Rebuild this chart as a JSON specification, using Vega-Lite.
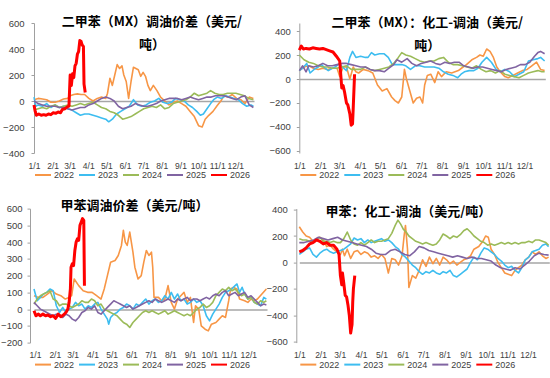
{
"$schema":"https://vega.github.io/schema/vega-lite/v6.json",
"padding":{"top":16,"left":0,"right":0,"bottom":0},
"config":{"view":{"stroke":null},"font":"Liberation Sans",
"axis":{"labelFont":"Liberation Sans","labelFontSize":9.5,"labelColor":"#404040","domainColor":"#A0A0A0","tickColor":"#A0A0A0","labelOverlap":false},
"axisX":{"domain":false,"ticks":false,"tickSize":0,"labelFlush":false,"labelFontSize":8.5,"grid":false},
"axisY":{"tickSize":3,"labelFlush":false,"grid":true,"gridWidth":1.5,"gridColor":{"condition":{"test":"datum.value===0","value":"#A6A6A6"},"value":"transparent"}},
"legend":{"orient":"bottom","direction":"horizontal","symbolType":"stroke","symbolSize":256,"symbolStrokeWidth":2,"labelFont":"Liberation Sans","labelFontSize":9,"labelColor":"#404040","labelOffset":2,"columnPadding":0,"padding":0,"rowPadding":0},
"title":{"font":"Noto Sans CJK SC","fontWeight":"bold","fontSize":13,"color":"#000000","anchor":"middle","frame":"group","lineHeight":23}},
"datasets":{"t":[
{"p":1,"s":2022,"d":0,"v":10},{"p":1,"s":2022,"d":7,"v":20},{"p":1,"s":2022,"d":14,"v":15},{"p":1,"s":2022,"d":21,"v":10},{"p":1,"s":2022,"d":28,"v":-10},{"p":1,"s":2022,"d":35,"v":-10},{"p":1,"s":2022,"d":42,"v":0},{"p":1,"s":2022,"d":49,"v":15},{"p":1,"s":2022,"d":56,"v":20},{"p":1,"s":2022,"d":60,"v":40},{"p":1,"s":2022,"d":66,"v":50},{"p":1,"s":2022,"d":72,"v":55},{"p":1,"s":2022,"d":78,"v":50},{"p":1,"s":2022,"d":84,"v":50},{"p":1,"s":2022,"d":91,"v":20},{"p":1,"s":2022,"d":98,"v":0},{"p":1,"s":2022,"d":105,"v":20},{"p":1,"s":2022,"d":112,"v":30},{"p":1,"s":2022,"d":119,"v":20},{"p":1,"s":2022,"d":122,"v":60},{"p":1,"s":2022,"d":126,"v":175},{"p":1,"s":2022,"d":130,"v":120},{"p":1,"s":2022,"d":134,"v":200},{"p":1,"s":2022,"d":138,"v":280},{"p":1,"s":2022,"d":142,"v":250},{"p":1,"s":2022,"d":146,"v":270},{"p":1,"s":2022,"d":149,"v":200},{"p":1,"s":2022,"d":153,"v":150},{"p":1,"s":2022,"d":157,"v":20},{"p":1,"s":2022,"d":161,"v":150},{"p":1,"s":2022,"d":165,"v":260},{"p":1,"s":2022,"d":169,"v":250},{"p":1,"s":2022,"d":173,"v":240},{"p":1,"s":2022,"d":177,"v":190},{"p":1,"s":2022,"d":181,"v":220},{"p":1,"s":2022,"d":185,"v":190},{"p":1,"s":2022,"d":189,"v":120},{"p":1,"s":2022,"d":193,"v":80},{"p":1,"s":2022,"d":198,"v":120},{"p":1,"s":2022,"d":204,"v":80},{"p":1,"s":2022,"d":210,"v":30},{"p":1,"s":2022,"d":217,"v":0},{"p":1,"s":2022,"d":224,"v":-30},{"p":1,"s":2022,"d":231,"v":-10},{"p":1,"s":2022,"d":238,"v":0},{"p":1,"s":2022,"d":245,"v":-20},{"p":1,"s":2022,"d":252,"v":-40},{"p":1,"s":2022,"d":259,"v":-80},{"p":1,"s":2022,"d":266,"v":-120},{"p":1,"s":2022,"d":273,"v":-190},{"p":1,"s":2022,"d":279,"v":-200},{"p":1,"s":2022,"d":284,"v":-140},{"p":1,"s":2022,"d":290,"v":-110},{"p":1,"s":2022,"d":297,"v":-80},{"p":1,"s":2022,"d":304,"v":-35},{"p":1,"s":2022,"d":310,"v":0},{"p":1,"s":2022,"d":315,"v":40},{"p":1,"s":2022,"d":322,"v":30},{"p":1,"s":2022,"d":329,"v":50},{"p":1,"s":2022,"d":336,"v":20},{"p":1,"s":2022,"d":343,"v":10},{"p":1,"s":2022,"d":350,"v":-20},{"p":1,"s":2022,"d":357,"v":30},{"p":1,"s":2022,"d":364,"v":20},
{"p":1,"s":2023,"d":0,"v":30},{"p":1,"s":2023,"d":3,"v":-40},{"p":1,"s":2023,"d":7,"v":-30},{"p":1,"s":2023,"d":14,"v":-40},{"p":1,"s":2023,"d":21,"v":-20},{"p":1,"s":2023,"d":28,"v":-50},{"p":1,"s":2023,"d":35,"v":-30},{"p":1,"s":2023,"d":42,"v":-50},{"p":1,"s":2023,"d":49,"v":-40},{"p":1,"s":2023,"d":56,"v":-60},{"p":1,"s":2023,"d":63,"v":-70},{"p":1,"s":2023,"d":70,"v":-90},{"p":1,"s":2023,"d":77,"v":-110},{"p":1,"s":2023,"d":84,"v":-100},{"p":1,"s":2023,"d":91,"v":-100},{"p":1,"s":2023,"d":98,"v":-110},{"p":1,"s":2023,"d":105,"v":-120},{"p":1,"s":2023,"d":112,"v":-130},{"p":1,"s":2023,"d":119,"v":-140},{"p":1,"s":2023,"d":124,"v":-160},{"p":1,"s":2023,"d":130,"v":-140},{"p":1,"s":2023,"d":137,"v":-100},{"p":1,"s":2023,"d":144,"v":-80},{"p":1,"s":2023,"d":151,"v":-60},{"p":1,"s":2023,"d":158,"v":-40},{"p":1,"s":2023,"d":165,"v":10},{"p":1,"s":2023,"d":172,"v":-30},{"p":1,"s":2023,"d":179,"v":-40},{"p":1,"s":2023,"d":186,"v":-30},{"p":1,"s":2023,"d":193,"v":-10},{"p":1,"s":2023,"d":200,"v":0},{"p":1,"s":2023,"d":207,"v":20},{"p":1,"s":2023,"d":214,"v":-10},{"p":1,"s":2023,"d":221,"v":-20},{"p":1,"s":2023,"d":228,"v":-10},{"p":1,"s":2023,"d":235,"v":20},{"p":1,"s":2023,"d":242,"v":10},{"p":1,"s":2023,"d":249,"v":0},{"p":1,"s":2023,"d":256,"v":-30},{"p":1,"s":2023,"d":263,"v":-50},{"p":1,"s":2023,"d":270,"v":-80},{"p":1,"s":2023,"d":276,"v":-110},{"p":1,"s":2023,"d":281,"v":-100},{"p":1,"s":2023,"d":287,"v":-60},{"p":1,"s":2023,"d":293,"v":-20},{"p":1,"s":2023,"d":298,"v":10},{"p":1,"s":2023,"d":304,"v":30},{"p":1,"s":2023,"d":311,"v":20},{"p":1,"s":2023,"d":318,"v":40},{"p":1,"s":2023,"d":325,"v":30},{"p":1,"s":2023,"d":332,"v":20},{"p":1,"s":2023,"d":339,"v":10},{"p":1,"s":2023,"d":346,"v":-20},{"p":1,"s":2023,"d":353,"v":-40},{"p":1,"s":2023,"d":360,"v":-30},{"p":1,"s":2023,"d":364,"v":-40},
{"p":1,"s":2024,"d":0,"v":-70},{"p":1,"s":2024,"d":7,"v":-60},{"p":1,"s":2024,"d":14,"v":-50},{"p":1,"s":2024,"d":21,"v":-60},{"p":1,"s":2024,"d":28,"v":-40},{"p":1,"s":2024,"d":35,"v":-30},{"p":1,"s":2024,"d":42,"v":-50},{"p":1,"s":2024,"d":49,"v":-40},{"p":1,"s":2024,"d":56,"v":-30},{"p":1,"s":2024,"d":63,"v":-40},{"p":1,"s":2024,"d":70,"v":-30},{"p":1,"s":2024,"d":77,"v":-20},{"p":1,"s":2024,"d":84,"v":-30},{"p":1,"s":2024,"d":91,"v":-20},{"p":1,"s":2024,"d":98,"v":-10},{"p":1,"s":2024,"d":105,"v":-30},{"p":1,"s":2024,"d":112,"v":-50},{"p":1,"s":2024,"d":119,"v":-60},{"p":1,"s":2024,"d":126,"v":-80},{"p":1,"s":2024,"d":133,"v":-90},{"p":1,"s":2024,"d":140,"v":-110},{"p":1,"s":2024,"d":147,"v":-140},{"p":1,"s":2024,"d":154,"v":-130},{"p":1,"s":2024,"d":161,"v":-120},{"p":1,"s":2024,"d":168,"v":-100},{"p":1,"s":2024,"d":175,"v":-80},{"p":1,"s":2024,"d":182,"v":-60},{"p":1,"s":2024,"d":189,"v":-50},{"p":1,"s":2024,"d":196,"v":-40},{"p":1,"s":2024,"d":203,"v":-50},{"p":1,"s":2024,"d":210,"v":-30},{"p":1,"s":2024,"d":217,"v":-60},{"p":1,"s":2024,"d":224,"v":-50},{"p":1,"s":2024,"d":231,"v":-20},{"p":1,"s":2024,"d":238,"v":-10},{"p":1,"s":2024,"d":245,"v":0},{"p":1,"s":2024,"d":252,"v":10},{"p":1,"s":2024,"d":259,"v":30},{"p":1,"s":2024,"d":266,"v":60},{"p":1,"s":2024,"d":273,"v":40},{"p":1,"s":2024,"d":280,"v":50},{"p":1,"s":2024,"d":287,"v":60},{"p":1,"s":2024,"d":293,"v":80},{"p":1,"s":2024,"d":300,"v":60},{"p":1,"s":2024,"d":307,"v":50},{"p":1,"s":2024,"d":314,"v":50},{"p":1,"s":2024,"d":321,"v":60},{"p":1,"s":2024,"d":328,"v":60},{"p":1,"s":2024,"d":335,"v":60},{"p":1,"s":2024,"d":342,"v":50},{"p":1,"s":2024,"d":349,"v":40},{"p":1,"s":2024,"d":356,"v":20},{"p":1,"s":2024,"d":364,"v":10},
{"p":1,"s":2025,"d":0,"v":0},{"p":1,"s":2025,"d":7,"v":-20},{"p":1,"s":2025,"d":14,"v":-30},{"p":1,"s":2025,"d":21,"v":-40},{"p":1,"s":2025,"d":28,"v":-40},{"p":1,"s":2025,"d":35,"v":-40},{"p":1,"s":2025,"d":42,"v":-50},{"p":1,"s":2025,"d":49,"v":-50},{"p":1,"s":2025,"d":56,"v":-60},{"p":1,"s":2025,"d":63,"v":-70},{"p":1,"s":2025,"d":70,"v":-60},{"p":1,"s":2025,"d":77,"v":-50},{"p":1,"s":2025,"d":84,"v":-50},{"p":1,"s":2025,"d":91,"v":-30},{"p":1,"s":2025,"d":98,"v":-20},{"p":1,"s":2025,"d":105,"v":0},{"p":1,"s":2025,"d":112,"v":20},{"p":1,"s":2025,"d":119,"v":30},{"p":1,"s":2025,"d":126,"v":20},{"p":1,"s":2025,"d":133,"v":0},{"p":1,"s":2025,"d":140,"v":-40},{"p":1,"s":2025,"d":147,"v":-60},{"p":1,"s":2025,"d":154,"v":-50},{"p":1,"s":2025,"d":161,"v":-40},{"p":1,"s":2025,"d":168,"v":-20},{"p":1,"s":2025,"d":175,"v":-30},{"p":1,"s":2025,"d":182,"v":-40},{"p":1,"s":2025,"d":189,"v":-40},{"p":1,"s":2025,"d":196,"v":-30},{"p":1,"s":2025,"d":203,"v":-20},{"p":1,"s":2025,"d":210,"v":0},{"p":1,"s":2025,"d":217,"v":10},{"p":1,"s":2025,"d":224,"v":20},{"p":1,"s":2025,"d":231,"v":20},{"p":1,"s":2025,"d":238,"v":20},{"p":1,"s":2025,"d":245,"v":10},{"p":1,"s":2025,"d":252,"v":20},{"p":1,"s":2025,"d":259,"v":30},{"p":1,"s":2025,"d":266,"v":20},{"p":1,"s":2025,"d":273,"v":10},{"p":1,"s":2025,"d":280,"v":20},{"p":1,"s":2025,"d":287,"v":30},{"p":1,"s":2025,"d":294,"v":30},{"p":1,"s":2025,"d":301,"v":40},{"p":1,"s":2025,"d":308,"v":40},{"p":1,"s":2025,"d":315,"v":40},{"p":1,"s":2025,"d":322,"v":30},{"p":1,"s":2025,"d":329,"v":20},{"p":1,"s":2025,"d":336,"v":10},{"p":1,"s":2025,"d":343,"v":30},{"p":1,"s":2025,"d":350,"v":40},{"p":1,"s":2025,"d":357,"v":-30},{"p":1,"s":2025,"d":364,"v":-50},
{"p":1,"s":2026,"d":0,"v":-30},{"p":1,"s":2026,"d":2,"v":-80},{"p":1,"s":2026,"d":4,"v":-110},{"p":1,"s":2026,"d":8,"v":-100},{"p":1,"s":2026,"d":12,"v":-110},{"p":1,"s":2026,"d":16,"v":-105},{"p":1,"s":2026,"d":20,"v":-110},{"p":1,"s":2026,"d":24,"v":-100},{"p":1,"s":2026,"d":28,"v":-105},{"p":1,"s":2026,"d":32,"v":-90},{"p":1,"s":2026,"d":36,"v":-95},{"p":1,"s":2026,"d":40,"v":-85},{"p":1,"s":2026,"d":44,"v":-90},{"p":1,"s":2026,"d":47,"v":-65},{"p":1,"s":2026,"d":51,"v":-60},{"p":1,"s":2026,"d":55,"v":-45},{"p":1,"s":2026,"d":58,"v":-40},{"p":1,"s":2026,"d":60,"v":200},{"p":1,"s":2026,"d":62,"v":120},{"p":1,"s":2026,"d":64,"v":210},{"p":1,"s":2026,"d":66,"v":180},{"p":1,"s":2026,"d":68,"v":270},{"p":1,"s":2026,"d":70,"v":290},{"p":1,"s":2026,"d":72,"v":360},{"p":1,"s":2026,"d":74,"v":380},{"p":1,"s":2026,"d":76,"v":465},{"p":1,"s":2026,"d":78,"v":460},{"p":1,"s":2026,"d":80,"v":430},{"p":1,"s":2026,"d":82,"v":420},{"p":1,"s":2026,"d":83,"v":130},{"p":1,"s":2026,"d":85,"v":65},
{"p":2,"s":2022,"d":0,"v":70},{"p":2,"s":2022,"d":7,"v":100},{"p":2,"s":2022,"d":14,"v":110},{"p":2,"s":2022,"d":21,"v":90},{"p":2,"s":2022,"d":28,"v":80},{"p":2,"s":2022,"d":35,"v":90},{"p":2,"s":2022,"d":42,"v":80},{"p":2,"s":2022,"d":49,"v":90},{"p":2,"s":2022,"d":56,"v":90},{"p":2,"s":2022,"d":60,"v":20},{"p":2,"s":2022,"d":65,"v":100},{"p":2,"s":2022,"d":70,"v":100},{"p":2,"s":2022,"d":75,"v":0},{"p":2,"s":2022,"d":80,"v":100},{"p":2,"s":2022,"d":84,"v":60},{"p":2,"s":2022,"d":88,"v":50},{"p":2,"s":2022,"d":95,"v":80},{"p":2,"s":2022,"d":102,"v":70},{"p":2,"s":2022,"d":109,"v":50},{"p":2,"s":2022,"d":116,"v":-50},{"p":2,"s":2022,"d":123,"v":-100},{"p":2,"s":2022,"d":130,"v":-80},{"p":2,"s":2022,"d":137,"v":-150},{"p":2,"s":2022,"d":142,"v":-180},{"p":2,"s":2022,"d":147,"v":-200},{"p":2,"s":2022,"d":152,"v":-150},{"p":2,"s":2022,"d":156,"v":80},{"p":2,"s":2022,"d":159,"v":0},{"p":2,"s":2022,"d":164,"v":-100},{"p":2,"s":2022,"d":169,"v":-200},{"p":2,"s":2022,"d":174,"v":-160},{"p":2,"s":2022,"d":179,"v":-150},{"p":2,"s":2022,"d":183,"v":-200},{"p":2,"s":2022,"d":186,"v":-50},{"p":2,"s":2022,"d":190,"v":30},{"p":2,"s":2022,"d":195,"v":40},{"p":2,"s":2022,"d":201,"v":-30},{"p":2,"s":2022,"d":206,"v":60},{"p":2,"s":2022,"d":211,"v":20},{"p":2,"s":2022,"d":218,"v":60},{"p":2,"s":2022,"d":226,"v":50},{"p":2,"s":2022,"d":236,"v":70},{"p":2,"s":2022,"d":243,"v":100},{"p":2,"s":2022,"d":248,"v":120},{"p":2,"s":2022,"d":256,"v":160},{"p":2,"s":2022,"d":263,"v":180},{"p":2,"s":2022,"d":268,"v":200},{"p":2,"s":2022,"d":273,"v":190},{"p":2,"s":2022,"d":278,"v":250},{"p":2,"s":2022,"d":283,"v":230},{"p":2,"s":2022,"d":288,"v":180},{"p":2,"s":2022,"d":293,"v":100},{"p":2,"s":2022,"d":298,"v":60},{"p":2,"s":2022,"d":305,"v":20},{"p":2,"s":2022,"d":310,"v":10},{"p":2,"s":2022,"d":317,"v":30},{"p":2,"s":2022,"d":324,"v":50},{"p":2,"s":2022,"d":331,"v":70},{"p":2,"s":2022,"d":338,"v":80},{"p":2,"s":2022,"d":345,"v":110},{"p":2,"s":2022,"d":352,"v":140},{"p":2,"s":2022,"d":358,"v":80},{"p":2,"s":2022,"d":364,"v":70},
{"p":2,"s":2023,"d":0,"v":70},{"p":2,"s":2023,"d":5,"v":90},{"p":2,"s":2023,"d":11,"v":130},{"p":2,"s":2023,"d":16,"v":50},{"p":2,"s":2023,"d":22,"v":80},{"p":2,"s":2023,"d":28,"v":100},{"p":2,"s":2023,"d":33,"v":120},{"p":2,"s":2023,"d":38,"v":90},{"p":2,"s":2023,"d":43,"v":70},{"p":2,"s":2023,"d":49,"v":90},{"p":2,"s":2023,"d":53,"v":100},{"p":2,"s":2023,"d":60,"v":130},{"p":2,"s":2023,"d":64,"v":100},{"p":2,"s":2023,"d":70,"v":70},{"p":2,"s":2023,"d":75,"v":180},{"p":2,"s":2023,"d":79,"v":230},{"p":2,"s":2023,"d":84,"v":180},{"p":2,"s":2023,"d":91,"v":190},{"p":2,"s":2023,"d":98,"v":180},{"p":2,"s":2023,"d":102,"v":180},{"p":2,"s":2023,"d":107,"v":220},{"p":2,"s":2023,"d":112,"v":200},{"p":2,"s":2023,"d":119,"v":210},{"p":2,"s":2023,"d":126,"v":210},{"p":2,"s":2023,"d":132,"v":180},{"p":2,"s":2023,"d":138,"v":120},{"p":2,"s":2023,"d":145,"v":120},{"p":2,"s":2023,"d":152,"v":120},{"p":2,"s":2023,"d":158,"v":110},{"p":2,"s":2023,"d":165,"v":80},{"p":2,"s":2023,"d":172,"v":110},{"p":2,"s":2023,"d":179,"v":110},{"p":2,"s":2023,"d":186,"v":100},{"p":2,"s":2023,"d":193,"v":100},{"p":2,"s":2023,"d":200,"v":100},{"p":2,"s":2023,"d":207,"v":90},{"p":2,"s":2023,"d":214,"v":60},{"p":2,"s":2023,"d":221,"v":40},{"p":2,"s":2023,"d":228,"v":30},{"p":2,"s":2023,"d":235,"v":10},{"p":2,"s":2023,"d":240,"v":40},{"p":2,"s":2023,"d":245,"v":60},{"p":2,"s":2023,"d":252,"v":70},{"p":2,"s":2023,"d":259,"v":70},{"p":2,"s":2023,"d":265,"v":90},{"p":2,"s":2023,"d":271,"v":140},{"p":2,"s":2023,"d":278,"v":180},{"p":2,"s":2023,"d":285,"v":140},{"p":2,"s":2023,"d":292,"v":80},{"p":2,"s":2023,"d":298,"v":60},{"p":2,"s":2023,"d":305,"v":80},{"p":2,"s":2023,"d":312,"v":60},{"p":2,"s":2023,"d":319,"v":20},{"p":2,"s":2023,"d":326,"v":40},{"p":2,"s":2023,"d":333,"v":60},{"p":2,"s":2023,"d":340,"v":150},{"p":2,"s":2023,"d":347,"v":160},{"p":2,"s":2023,"d":354,"v":170},{"p":2,"s":2023,"d":358,"v":180},{"p":2,"s":2023,"d":364,"v":150},
{"p":2,"s":2024,"d":0,"v":200},{"p":2,"s":2024,"d":7,"v":160},{"p":2,"s":2024,"d":14,"v":140},{"p":2,"s":2024,"d":21,"v":130},{"p":2,"s":2024,"d":28,"v":110},{"p":2,"s":2024,"d":35,"v":100},{"p":2,"s":2024,"d":42,"v":100},{"p":2,"s":2024,"d":49,"v":90},{"p":2,"s":2024,"d":56,"v":90},{"p":2,"s":2024,"d":63,"v":100},{"p":2,"s":2024,"d":70,"v":110},{"p":2,"s":2024,"d":77,"v":80},{"p":2,"s":2024,"d":84,"v":80},{"p":2,"s":2024,"d":91,"v":80},{"p":2,"s":2024,"d":98,"v":100},{"p":2,"s":2024,"d":105,"v":80},{"p":2,"s":2024,"d":112,"v":70},{"p":2,"s":2024,"d":119,"v":80},{"p":2,"s":2024,"d":126,"v":90},{"p":2,"s":2024,"d":133,"v":100},{"p":2,"s":2024,"d":140,"v":130},{"p":2,"s":2024,"d":147,"v":180},{"p":2,"s":2024,"d":152,"v":220},{"p":2,"s":2024,"d":158,"v":200},{"p":2,"s":2024,"d":165,"v":190},{"p":2,"s":2024,"d":172,"v":170},{"p":2,"s":2024,"d":179,"v":150},{"p":2,"s":2024,"d":186,"v":140},{"p":2,"s":2024,"d":193,"v":150},{"p":2,"s":2024,"d":200,"v":150},{"p":2,"s":2024,"d":207,"v":170},{"p":2,"s":2024,"d":214,"v":180},{"p":2,"s":2024,"d":221,"v":140},{"p":2,"s":2024,"d":228,"v":120},{"p":2,"s":2024,"d":235,"v":120},{"p":2,"s":2024,"d":242,"v":110},{"p":2,"s":2024,"d":249,"v":100},{"p":2,"s":2024,"d":256,"v":90},{"p":2,"s":2024,"d":263,"v":110},{"p":2,"s":2024,"d":270,"v":80},{"p":2,"s":2024,"d":277,"v":60},{"p":2,"s":2024,"d":284,"v":70},{"p":2,"s":2024,"d":291,"v":50},{"p":2,"s":2024,"d":298,"v":70},{"p":2,"s":2024,"d":305,"v":40},{"p":2,"s":2024,"d":312,"v":30},{"p":2,"s":2024,"d":319,"v":20},{"p":2,"s":2024,"d":326,"v":10},{"p":2,"s":2024,"d":333,"v":30},{"p":2,"s":2024,"d":340,"v":50},{"p":2,"s":2024,"d":347,"v":60},{"p":2,"s":2024,"d":354,"v":70},{"p":2,"s":2024,"d":360,"v":60},{"p":2,"s":2024,"d":364,"v":60},
{"p":2,"s":2025,"d":0,"v":70},{"p":2,"s":2025,"d":5,"v":110},{"p":2,"s":2025,"d":10,"v":60},{"p":2,"s":2025,"d":14,"v":110},{"p":2,"s":2025,"d":21,"v":100},{"p":2,"s":2025,"d":28,"v":110},{"p":2,"s":2025,"d":35,"v":130},{"p":2,"s":2025,"d":42,"v":110},{"p":2,"s":2025,"d":49,"v":110},{"p":2,"s":2025,"d":56,"v":120},{"p":2,"s":2025,"d":63,"v":130},{"p":2,"s":2025,"d":70,"v":130},{"p":2,"s":2025,"d":77,"v":120},{"p":2,"s":2025,"d":84,"v":110},{"p":2,"s":2025,"d":91,"v":100},{"p":2,"s":2025,"d":98,"v":100},{"p":2,"s":2025,"d":105,"v":80},{"p":2,"s":2025,"d":112,"v":70},{"p":2,"s":2025,"d":119,"v":70},{"p":2,"s":2025,"d":126,"v":60},{"p":2,"s":2025,"d":133,"v":90},{"p":2,"s":2025,"d":140,"v":120},{"p":2,"s":2025,"d":145,"v":160},{"p":2,"s":2025,"d":152,"v":140},{"p":2,"s":2025,"d":160,"v":170},{"p":2,"s":2025,"d":167,"v":130},{"p":2,"s":2025,"d":174,"v":110},{"p":2,"s":2025,"d":181,"v":130},{"p":2,"s":2025,"d":188,"v":140},{"p":2,"s":2025,"d":195,"v":150},{"p":2,"s":2025,"d":202,"v":130},{"p":2,"s":2025,"d":209,"v":120},{"p":2,"s":2025,"d":216,"v":140},{"p":2,"s":2025,"d":223,"v":130},{"p":2,"s":2025,"d":230,"v":140},{"p":2,"s":2025,"d":237,"v":140},{"p":2,"s":2025,"d":244,"v":110},{"p":2,"s":2025,"d":251,"v":100},{"p":2,"s":2025,"d":258,"v":90},{"p":2,"s":2025,"d":265,"v":100},{"p":2,"s":2025,"d":272,"v":100},{"p":2,"s":2025,"d":279,"v":90},{"p":2,"s":2025,"d":286,"v":80},{"p":2,"s":2025,"d":293,"v":70},{"p":2,"s":2025,"d":300,"v":60},{"p":2,"s":2025,"d":307,"v":80},{"p":2,"s":2025,"d":314,"v":90},{"p":2,"s":2025,"d":321,"v":100},{"p":2,"s":2025,"d":328,"v":120},{"p":2,"s":2025,"d":335,"v":120},{"p":2,"s":2025,"d":342,"v":140},{"p":2,"s":2025,"d":349,"v":190},{"p":2,"s":2025,"d":354,"v":220},{"p":2,"s":2025,"d":358,"v":230},{"p":2,"s":2025,"d":364,"v":210},
{"p":2,"s":2026,"d":0,"v":240},{"p":2,"s":2026,"d":3,"v":275},{"p":2,"s":2026,"d":6,"v":250},{"p":2,"s":2026,"d":10,"v":255},{"p":2,"s":2026,"d":15,"v":250},{"p":2,"s":2026,"d":20,"v":260},{"p":2,"s":2026,"d":25,"v":255},{"p":2,"s":2026,"d":30,"v":250},{"p":2,"s":2026,"d":35,"v":255},{"p":2,"s":2026,"d":40,"v":245},{"p":2,"s":2026,"d":45,"v":235},{"p":2,"s":2026,"d":50,"v":225},{"p":2,"s":2026,"d":55,"v":190},{"p":2,"s":2026,"d":60,"v":150},{"p":2,"s":2026,"d":63,"v":-75},{"p":2,"s":2026,"d":65,"v":-55},{"p":2,"s":2026,"d":67,"v":-105},{"p":2,"s":2026,"d":70,"v":-200},{"p":2,"s":2026,"d":72,"v":-215},{"p":2,"s":2026,"d":75,"v":-290},{"p":2,"s":2026,"d":77,"v":-385},{"p":2,"s":2026,"d":79,"v":-375},{"p":2,"s":2026,"d":80,"v":-245},{"p":2,"s":2026,"d":82,"v":40},
{"p":3,"s":2022,"d":0,"v":80},{"p":3,"s":2022,"d":7,"v":70},{"p":3,"s":2022,"d":14,"v":70},{"p":3,"s":2022,"d":21,"v":90},{"p":3,"s":2022,"d":28,"v":110},{"p":3,"s":2022,"d":35,"v":90},{"p":3,"s":2022,"d":42,"v":80},{"p":3,"s":2022,"d":49,"v":60},{"p":3,"s":2022,"d":55,"v":70},{"p":3,"s":2022,"d":59,"v":80},{"p":3,"s":2022,"d":63,"v":180},{"p":3,"s":2022,"d":70,"v":140},{"p":3,"s":2022,"d":77,"v":110},{"p":3,"s":2022,"d":84,"v":100},{"p":3,"s":2022,"d":91,"v":100},{"p":3,"s":2022,"d":98,"v":80},{"p":3,"s":2022,"d":105,"v":60},{"p":3,"s":2022,"d":110,"v":120},{"p":3,"s":2022,"d":115,"v":200},{"p":3,"s":2022,"d":120,"v":280},{"p":3,"s":2022,"d":127,"v":290},{"p":3,"s":2022,"d":132,"v":320},{"p":3,"s":2022,"d":137,"v":380},{"p":3,"s":2022,"d":140,"v":470},{"p":3,"s":2022,"d":143,"v":400},{"p":3,"s":2022,"d":146,"v":380},{"p":3,"s":2022,"d":150,"v":460},{"p":3,"s":2022,"d":155,"v":340},{"p":3,"s":2022,"d":158,"v":250},{"p":3,"s":2022,"d":163,"v":180},{"p":3,"s":2022,"d":168,"v":200},{"p":3,"s":2022,"d":172,"v":280},{"p":3,"s":2022,"d":176,"v":350},{"p":3,"s":2022,"d":180,"v":320},{"p":3,"s":2022,"d":184,"v":340},{"p":3,"s":2022,"d":186,"v":250},{"p":3,"s":2022,"d":188,"v":70},{"p":3,"s":2022,"d":195,"v":70},{"p":3,"s":2022,"d":200,"v":50},{"p":3,"s":2022,"d":205,"v":60},{"p":3,"s":2022,"d":210,"v":140},{"p":3,"s":2022,"d":215,"v":40},{"p":3,"s":2022,"d":220,"v":0},{"p":3,"s":2022,"d":225,"v":60},{"p":3,"s":2022,"d":230,"v":80},{"p":3,"s":2022,"d":235,"v":100},{"p":3,"s":2022,"d":240,"v":40},{"p":3,"s":2022,"d":245,"v":70},{"p":3,"s":2022,"d":250,"v":-80},{"p":3,"s":2022,"d":253,"v":20},{"p":3,"s":2022,"d":258,"v":0},{"p":3,"s":2022,"d":262,"v":-100},{"p":3,"s":2022,"d":268,"v":-120},{"p":3,"s":2022,"d":273,"v":-130},{"p":3,"s":2022,"d":278,"v":-90},{"p":3,"s":2022,"d":285,"v":-80},{"p":3,"s":2022,"d":290,"v":-60},{"p":3,"s":2022,"d":295,"v":-40},{"p":3,"s":2022,"d":300,"v":-50},{"p":3,"s":2022,"d":305,"v":50},{"p":3,"s":2022,"d":308,"v":120},{"p":3,"s":2022,"d":312,"v":130},{"p":3,"s":2022,"d":318,"v":120},{"p":3,"s":2022,"d":322,"v":60},{"p":3,"s":2022,"d":330,"v":50},{"p":3,"s":2022,"d":335,"v":40},{"p":3,"s":2022,"d":340,"v":60},{"p":3,"s":2022,"d":345,"v":50},{"p":3,"s":2022,"d":350,"v":60},{"p":3,"s":2022,"d":357,"v":90},{"p":3,"s":2022,"d":364,"v":120},
{"p":3,"s":2023,"d":0,"v":120},{"p":3,"s":2023,"d":5,"v":50},{"p":3,"s":2023,"d":10,"v":70},{"p":3,"s":2023,"d":15,"v":90},{"p":3,"s":2023,"d":20,"v":100},{"p":3,"s":2023,"d":25,"v":120},{"p":3,"s":2023,"d":30,"v":110},{"p":3,"s":2023,"d":35,"v":20},{"p":3,"s":2023,"d":40,"v":-20},{"p":3,"s":2023,"d":45,"v":10},{"p":3,"s":2023,"d":50,"v":-20},{"p":3,"s":2023,"d":55,"v":0},{"p":3,"s":2023,"d":60,"v":10},{"p":3,"s":2023,"d":65,"v":40},{"p":3,"s":2023,"d":70,"v":20},{"p":3,"s":2023,"d":75,"v":30},{"p":3,"s":2023,"d":80,"v":0},{"p":3,"s":2023,"d":85,"v":20},{"p":3,"s":2023,"d":90,"v":10},{"p":3,"s":2023,"d":95,"v":30},{"p":3,"s":2023,"d":100,"v":40},{"p":3,"s":2023,"d":105,"v":0},{"p":3,"s":2023,"d":110,"v":-30},{"p":3,"s":2023,"d":115,"v":-60},{"p":3,"s":2023,"d":117,"v":-90},{"p":3,"s":2023,"d":120,"v":-50},{"p":3,"s":2023,"d":125,"v":-30},{"p":3,"s":2023,"d":130,"v":-20},{"p":3,"s":2023,"d":135,"v":0},{"p":3,"s":2023,"d":140,"v":10},{"p":3,"s":2023,"d":145,"v":30},{"p":3,"s":2023,"d":150,"v":20},{"p":3,"s":2023,"d":155,"v":0},{"p":3,"s":2023,"d":160,"v":30},{"p":3,"s":2023,"d":165,"v":20},{"p":3,"s":2023,"d":170,"v":40},{"p":3,"s":2023,"d":175,"v":60},{"p":3,"s":2023,"d":180,"v":30},{"p":3,"s":2023,"d":185,"v":50},{"p":3,"s":2023,"d":190,"v":60},{"p":3,"s":2023,"d":195,"v":40},{"p":3,"s":2023,"d":200,"v":50},{"p":3,"s":2023,"d":205,"v":80},{"p":3,"s":2023,"d":210,"v":60},{"p":3,"s":2023,"d":215,"v":100},{"p":3,"s":2023,"d":220,"v":60},{"p":3,"s":2023,"d":225,"v":90},{"p":3,"s":2023,"d":230,"v":50},{"p":3,"s":2023,"d":235,"v":60},{"p":3,"s":2023,"d":240,"v":30},{"p":3,"s":2023,"d":245,"v":40},{"p":3,"s":2023,"d":250,"v":60},{"p":3,"s":2023,"d":255,"v":40},{"p":3,"s":2023,"d":260,"v":50},{"p":3,"s":2023,"d":265,"v":20},{"p":3,"s":2023,"d":270,"v":-40},{"p":3,"s":2023,"d":275,"v":-70},{"p":3,"s":2023,"d":280,"v":-30},{"p":3,"s":2023,"d":285,"v":0},{"p":3,"s":2023,"d":290,"v":30},{"p":3,"s":2023,"d":295,"v":70},{"p":3,"s":2023,"d":300,"v":100},{"p":3,"s":2023,"d":305,"v":110},{"p":3,"s":2023,"d":310,"v":120},{"p":3,"s":2023,"d":315,"v":140},{"p":3,"s":2023,"d":318,"v":150},{"p":3,"s":2023,"d":322,"v":100},{"p":3,"s":2023,"d":326,"v":130},{"p":3,"s":2023,"d":330,"v":90},{"p":3,"s":2023,"d":335,"v":60},{"p":3,"s":2023,"d":340,"v":70},{"p":3,"s":2023,"d":345,"v":40},{"p":3,"s":2023,"d":350,"v":30},{"p":3,"s":2023,"d":355,"v":20},{"p":3,"s":2023,"d":360,"v":70},{"p":3,"s":2023,"d":364,"v":60},
{"p":3,"s":2024,"d":0,"v":30},{"p":3,"s":2024,"d":5,"v":60},{"p":3,"s":2024,"d":10,"v":80},{"p":3,"s":2024,"d":15,"v":90},{"p":3,"s":2024,"d":20,"v":100},{"p":3,"s":2024,"d":25,"v":110},{"p":3,"s":2024,"d":30,"v":60},{"p":3,"s":2024,"d":35,"v":50},{"p":3,"s":2024,"d":40,"v":20},{"p":3,"s":2024,"d":45,"v":30},{"p":3,"s":2024,"d":50,"v":30},{"p":3,"s":2024,"d":55,"v":20},{"p":3,"s":2024,"d":60,"v":10},{"p":3,"s":2024,"d":65,"v":20},{"p":3,"s":2024,"d":70,"v":30},{"p":3,"s":2024,"d":75,"v":50},{"p":3,"s":2024,"d":80,"v":40},{"p":3,"s":2024,"d":85,"v":40},{"p":3,"s":2024,"d":90,"v":60},{"p":3,"s":2024,"d":95,"v":50},{"p":3,"s":2024,"d":100,"v":20},{"p":3,"s":2024,"d":105,"v":30},{"p":3,"s":2024,"d":110,"v":0},{"p":3,"s":2024,"d":115,"v":-10},{"p":3,"s":2024,"d":120,"v":-20},{"p":3,"s":2024,"d":125,"v":-30},{"p":3,"s":2024,"d":130,"v":-40},{"p":3,"s":2024,"d":135,"v":-60},{"p":3,"s":2024,"d":140,"v":-80},{"p":3,"s":2024,"d":145,"v":-90},{"p":3,"s":2024,"d":150,"v":-110},{"p":3,"s":2024,"d":155,"v":-80},{"p":3,"s":2024,"d":160,"v":-60},{"p":3,"s":2024,"d":165,"v":-40},{"p":3,"s":2024,"d":170,"v":-20},{"p":3,"s":2024,"d":175,"v":-10},{"p":3,"s":2024,"d":180,"v":-20},{"p":3,"s":2024,"d":185,"v":-10},{"p":3,"s":2024,"d":190,"v":-20},{"p":3,"s":2024,"d":195,"v":-30},{"p":3,"s":2024,"d":200,"v":-20},{"p":3,"s":2024,"d":205,"v":-10},{"p":3,"s":2024,"d":210,"v":-30},{"p":3,"s":2024,"d":215,"v":-20},{"p":3,"s":2024,"d":220,"v":-10},{"p":3,"s":2024,"d":225,"v":-20},{"p":3,"s":2024,"d":230,"v":-30},{"p":3,"s":2024,"d":235,"v":-40},{"p":3,"s":2024,"d":240,"v":-30},{"p":3,"s":2024,"d":245,"v":-40},{"p":3,"s":2024,"d":250,"v":-20},{"p":3,"s":2024,"d":255,"v":0},{"p":3,"s":2024,"d":260,"v":10},{"p":3,"s":2024,"d":265,"v":30},{"p":3,"s":2024,"d":270,"v":10},{"p":3,"s":2024,"d":275,"v":20},{"p":3,"s":2024,"d":280,"v":40},{"p":3,"s":2024,"d":285,"v":80},{"p":3,"s":2024,"d":290,"v":100},{"p":3,"s":2024,"d":295,"v":120},{"p":3,"s":2024,"d":300,"v":110},{"p":3,"s":2024,"d":305,"v":130},{"p":3,"s":2024,"d":310,"v":110},{"p":3,"s":2024,"d":315,"v":120},{"p":3,"s":2024,"d":320,"v":100},{"p":3,"s":2024,"d":325,"v":80},{"p":3,"s":2024,"d":330,"v":90},{"p":3,"s":2024,"d":335,"v":60},{"p":3,"s":2024,"d":340,"v":70},{"p":3,"s":2024,"d":345,"v":40},{"p":3,"s":2024,"d":350,"v":30},{"p":3,"s":2024,"d":355,"v":50},{"p":3,"s":2024,"d":360,"v":40},{"p":3,"s":2024,"d":364,"v":50},
{"p":3,"s":2025,"d":0,"v":40},{"p":3,"s":2025,"d":5,"v":20},{"p":3,"s":2025,"d":10,"v":0},{"p":3,"s":2025,"d":15,"v":-10},{"p":3,"s":2025,"d":20,"v":-20},{"p":3,"s":2025,"d":25,"v":-30},{"p":3,"s":2025,"d":30,"v":-40},{"p":3,"s":2025,"d":35,"v":-30},{"p":3,"s":2025,"d":40,"v":-40},{"p":3,"s":2025,"d":45,"v":-50},{"p":3,"s":2025,"d":50,"v":-30},{"p":3,"s":2025,"d":55,"v":-40},{"p":3,"s":2025,"d":60,"v":-60},{"p":3,"s":2025,"d":65,"v":-70},{"p":3,"s":2025,"d":70,"v":-50},{"p":3,"s":2025,"d":75,"v":-20},{"p":3,"s":2025,"d":80,"v":-10},{"p":3,"s":2025,"d":85,"v":10},{"p":3,"s":2025,"d":90,"v":0},{"p":3,"s":2025,"d":95,"v":20},{"p":3,"s":2025,"d":100,"v":-20},{"p":3,"s":2025,"d":105,"v":-30},{"p":3,"s":2025,"d":110,"v":-10},{"p":3,"s":2025,"d":115,"v":10},{"p":3,"s":2025,"d":120,"v":30},{"p":3,"s":2025,"d":125,"v":50},{"p":3,"s":2025,"d":130,"v":40},{"p":3,"s":2025,"d":135,"v":30},{"p":3,"s":2025,"d":140,"v":20},{"p":3,"s":2025,"d":145,"v":10},{"p":3,"s":2025,"d":150,"v":20},{"p":3,"s":2025,"d":155,"v":0},{"p":3,"s":2025,"d":160,"v":10},{"p":3,"s":2025,"d":165,"v":20},{"p":3,"s":2025,"d":170,"v":30},{"p":3,"s":2025,"d":175,"v":40},{"p":3,"s":2025,"d":180,"v":50},{"p":3,"s":2025,"d":185,"v":40},{"p":3,"s":2025,"d":190,"v":60},{"p":3,"s":2025,"d":195,"v":50},{"p":3,"s":2025,"d":200,"v":40},{"p":3,"s":2025,"d":205,"v":50},{"p":3,"s":2025,"d":210,"v":60},{"p":3,"s":2025,"d":215,"v":50},{"p":3,"s":2025,"d":220,"v":40},{"p":3,"s":2025,"d":225,"v":60},{"p":3,"s":2025,"d":230,"v":50},{"p":3,"s":2025,"d":235,"v":60},{"p":3,"s":2025,"d":240,"v":70},{"p":3,"s":2025,"d":245,"v":50},{"p":3,"s":2025,"d":250,"v":60},{"p":3,"s":2025,"d":255,"v":60},{"p":3,"s":2025,"d":260,"v":50},{"p":3,"s":2025,"d":265,"v":60},{"p":3,"s":2025,"d":270,"v":70},{"p":3,"s":2025,"d":275,"v":60},{"p":3,"s":2025,"d":280,"v":80},{"p":3,"s":2025,"d":285,"v":90},{"p":3,"s":2025,"d":290,"v":80},{"p":3,"s":2025,"d":295,"v":100},{"p":3,"s":2025,"d":300,"v":110},{"p":3,"s":2025,"d":305,"v":80},{"p":3,"s":2025,"d":310,"v":90},{"p":3,"s":2025,"d":315,"v":100},{"p":3,"s":2025,"d":320,"v":80},{"p":3,"s":2025,"d":325,"v":90},{"p":3,"s":2025,"d":330,"v":100},{"p":3,"s":2025,"d":335,"v":70},{"p":3,"s":2025,"d":340,"v":80},{"p":3,"s":2025,"d":345,"v":60},{"p":3,"s":2025,"d":350,"v":40},{"p":3,"s":2025,"d":355,"v":20},{"p":3,"s":2025,"d":360,"v":30},{"p":3,"s":2025,"d":364,"v":25},
{"p":3,"s":2026,"d":0,"v":-10},{"p":3,"s":2026,"d":3,"v":-40},{"p":3,"s":2026,"d":7,"v":-30},{"p":3,"s":2026,"d":10,"v":-40},{"p":3,"s":2026,"d":14,"v":-30},{"p":3,"s":2026,"d":18,"v":-40},{"p":3,"s":2026,"d":22,"v":-35},{"p":3,"s":2026,"d":26,"v":-45},{"p":3,"s":2026,"d":30,"v":-40},{"p":3,"s":2026,"d":34,"v":-55},{"p":3,"s":2026,"d":38,"v":-30},{"p":3,"s":2026,"d":42,"v":-45},{"p":3,"s":2026,"d":46,"v":-35},{"p":3,"s":2026,"d":50,"v":-20},{"p":3,"s":2026,"d":53,"v":0},{"p":3,"s":2026,"d":55,"v":40},{"p":3,"s":2026,"d":57,"v":120},{"p":3,"s":2026,"d":58,"v":250},{"p":3,"s":2026,"d":60,"v":270},{"p":3,"s":2026,"d":62,"v":260},{"p":3,"s":2026,"d":64,"v":350},{"p":3,"s":2026,"d":66,"v":400},{"p":3,"s":2026,"d":68,"v":420},{"p":3,"s":2026,"d":70,"v":410},{"p":3,"s":2026,"d":72,"v":500},{"p":3,"s":2026,"d":74,"v":520},{"p":3,"s":2026,"d":76,"v":540},{"p":3,"s":2026,"d":78,"v":530},{"p":3,"s":2026,"d":79,"v":140},
{"p":4,"s":2022,"d":0,"v":270},{"p":4,"s":2022,"d":5,"v":230},{"p":4,"s":2022,"d":10,"v":200},{"p":4,"s":2022,"d":15,"v":190},{"p":4,"s":2022,"d":20,"v":160},{"p":4,"s":2022,"d":25,"v":180},{"p":4,"s":2022,"d":30,"v":190},{"p":4,"s":2022,"d":35,"v":170},{"p":4,"s":2022,"d":40,"v":120},{"p":4,"s":2022,"d":45,"v":130},{"p":4,"s":2022,"d":50,"v":100},{"p":4,"s":2022,"d":55,"v":80},{"p":4,"s":2022,"d":60,"v":60},{"p":4,"s":2022,"d":63,"v":100},{"p":4,"s":2022,"d":66,"v":50},{"p":4,"s":2022,"d":70,"v":100},{"p":4,"s":2022,"d":75,"v":30},{"p":4,"s":2022,"d":80,"v":80},{"p":4,"s":2022,"d":85,"v":90},{"p":4,"s":2022,"d":90,"v":60},{"p":4,"s":2022,"d":95,"v":80},{"p":4,"s":2022,"d":100,"v":70},{"p":4,"s":2022,"d":105,"v":40},{"p":4,"s":2022,"d":110,"v":50},{"p":4,"s":2022,"d":115,"v":30},{"p":4,"s":2022,"d":120,"v":60},{"p":4,"s":2022,"d":125,"v":30},{"p":4,"s":2022,"d":130,"v":-80},{"p":4,"s":2022,"d":135,"v":30},{"p":4,"s":2022,"d":140,"v":20},{"p":4,"s":2022,"d":145,"v":-20},{"p":4,"s":2022,"d":150,"v":50},{"p":4,"s":2022,"d":153,"v":200},{"p":4,"s":2022,"d":155,"v":280},{"p":4,"s":2022,"d":158,"v":100},{"p":4,"s":2022,"d":160,"v":-190},{"p":4,"s":2022,"d":165,"v":-100},{"p":4,"s":2022,"d":170,"v":-120},{"p":4,"s":2022,"d":175,"v":-60},{"p":4,"s":2022,"d":180,"v":20},{"p":4,"s":2022,"d":185,"v":-30},{"p":4,"s":2022,"d":190,"v":40},{"p":4,"s":2022,"d":195,"v":-10},{"p":4,"s":2022,"d":200,"v":30},{"p":4,"s":2022,"d":205,"v":-20},{"p":4,"s":2022,"d":210,"v":40},{"p":4,"s":2022,"d":215,"v":20},{"p":4,"s":2022,"d":220,"v":-10},{"p":4,"s":2022,"d":225,"v":10},{"p":4,"s":2022,"d":230,"v":-20},{"p":4,"s":2022,"d":235,"v":0},{"p":4,"s":2022,"d":240,"v":20},{"p":4,"s":2022,"d":245,"v":30},{"p":4,"s":2022,"d":250,"v":50},{"p":4,"s":2022,"d":255,"v":100},{"p":4,"s":2022,"d":262,"v":120},{"p":4,"s":2022,"d":268,"v":160},{"p":4,"s":2022,"d":272,"v":200},{"p":4,"s":2022,"d":276,"v":190},{"p":4,"s":2022,"d":280,"v":100},{"p":4,"s":2022,"d":285,"v":60},{"p":4,"s":2022,"d":290,"v":0},{"p":4,"s":2022,"d":295,"v":-40},{"p":4,"s":2022,"d":300,"v":-80},{"p":4,"s":2022,"d":305,"v":-90},{"p":4,"s":2022,"d":310,"v":-100},{"p":4,"s":2022,"d":315,"v":-60},{"p":4,"s":2022,"d":320,"v":-40},{"p":4,"s":2022,"d":325,"v":-20},{"p":4,"s":2022,"d":330,"v":20},{"p":4,"s":2022,"d":335,"v":40},{"p":4,"s":2022,"d":340,"v":80},{"p":4,"s":2022,"d":345,"v":60},{"p":4,"s":2022,"d":350,"v":80},{"p":4,"s":2022,"d":355,"v":50},{"p":4,"s":2022,"d":360,"v":30},{"p":4,"s":2022,"d":364,"v":40},
{"p":4,"s":2023,"d":0,"v":60},{"p":4,"s":2023,"d":5,"v":80},{"p":4,"s":2023,"d":10,"v":100},{"p":4,"s":2023,"d":15,"v":110},{"p":4,"s":2023,"d":20,"v":60},{"p":4,"s":2023,"d":25,"v":40},{"p":4,"s":2023,"d":30,"v":70},{"p":4,"s":2023,"d":35,"v":90},{"p":4,"s":2023,"d":40,"v":100},{"p":4,"s":2023,"d":45,"v":80},{"p":4,"s":2023,"d":50,"v":70},{"p":4,"s":2023,"d":55,"v":80},{"p":4,"s":2023,"d":60,"v":90},{"p":4,"s":2023,"d":65,"v":100},{"p":4,"s":2023,"d":70,"v":120},{"p":4,"s":2023,"d":75,"v":140},{"p":4,"s":2023,"d":80,"v":185},{"p":4,"s":2023,"d":85,"v":170},{"p":4,"s":2023,"d":90,"v":180},{"p":4,"s":2023,"d":95,"v":150},{"p":4,"s":2023,"d":100,"v":170},{"p":4,"s":2023,"d":105,"v":150},{"p":4,"s":2023,"d":110,"v":160},{"p":4,"s":2023,"d":115,"v":170},{"p":4,"s":2023,"d":120,"v":180},{"p":4,"s":2023,"d":125,"v":160},{"p":4,"s":2023,"d":130,"v":170},{"p":4,"s":2023,"d":135,"v":150},{"p":4,"s":2023,"d":140,"v":120},{"p":4,"s":2023,"d":145,"v":100},{"p":4,"s":2023,"d":150,"v":60},{"p":4,"s":2023,"d":155,"v":40},{"p":4,"s":2023,"d":160,"v":10},{"p":4,"s":2023,"d":165,"v":-20},{"p":4,"s":2023,"d":170,"v":-40},{"p":4,"s":2023,"d":175,"v":-70},{"p":4,"s":2023,"d":180,"v":-90},{"p":4,"s":2023,"d":185,"v":-70},{"p":4,"s":2023,"d":190,"v":-80},{"p":4,"s":2023,"d":195,"v":-60},{"p":4,"s":2023,"d":200,"v":-80},{"p":4,"s":2023,"d":205,"v":-90},{"p":4,"s":2023,"d":210,"v":-70},{"p":4,"s":2023,"d":215,"v":-80},{"p":4,"s":2023,"d":220,"v":-60},{"p":4,"s":2023,"d":225,"v":-100},{"p":4,"s":2023,"d":230,"v":-110},{"p":4,"s":2023,"d":235,"v":-90},{"p":4,"s":2023,"d":240,"v":-70},{"p":4,"s":2023,"d":245,"v":-50},{"p":4,"s":2023,"d":250,"v":0},{"p":4,"s":2023,"d":255,"v":40},{"p":4,"s":2023,"d":260,"v":20},{"p":4,"s":2023,"d":265,"v":70},{"p":4,"s":2023,"d":270,"v":110},{"p":4,"s":2023,"d":275,"v":100},{"p":4,"s":2023,"d":280,"v":80},{"p":4,"s":2023,"d":285,"v":60},{"p":4,"s":2023,"d":290,"v":30},{"p":4,"s":2023,"d":295,"v":10},{"p":4,"s":2023,"d":300,"v":-20},{"p":4,"s":2023,"d":305,"v":-40},{"p":4,"s":2023,"d":310,"v":-30},{"p":4,"s":2023,"d":315,"v":-60},{"p":4,"s":2023,"d":320,"v":-80},{"p":4,"s":2023,"d":325,"v":-40},{"p":4,"s":2023,"d":330,"v":20},{"p":4,"s":2023,"d":335,"v":40},{"p":4,"s":2023,"d":340,"v":80},{"p":4,"s":2023,"d":345,"v":90},{"p":4,"s":2023,"d":350,"v":100},{"p":4,"s":2023,"d":355,"v":130},{"p":4,"s":2023,"d":360,"v":140},{"p":4,"s":2023,"d":364,"v":120},
{"p":4,"s":2024,"d":0,"v":180},{"p":4,"s":2024,"d":5,"v":170},{"p":4,"s":2024,"d":10,"v":170},{"p":4,"s":2024,"d":15,"v":160},{"p":4,"s":2024,"d":20,"v":160},{"p":4,"s":2024,"d":25,"v":170},{"p":4,"s":2024,"d":30,"v":190},{"p":4,"s":2024,"d":35,"v":160},{"p":4,"s":2024,"d":40,"v":160},{"p":4,"s":2024,"d":45,"v":150},{"p":4,"s":2024,"d":50,"v":160},{"p":4,"s":2024,"d":55,"v":150},{"p":4,"s":2024,"d":60,"v":150},{"p":4,"s":2024,"d":65,"v":180},{"p":4,"s":2024,"d":70,"v":230},{"p":4,"s":2024,"d":75,"v":170},{"p":4,"s":2024,"d":80,"v":140},{"p":4,"s":2024,"d":85,"v":130},{"p":4,"s":2024,"d":90,"v":150},{"p":4,"s":2024,"d":95,"v":130},{"p":4,"s":2024,"d":100,"v":150},{"p":4,"s":2024,"d":105,"v":170},{"p":4,"s":2024,"d":110,"v":150},{"p":4,"s":2024,"d":115,"v":160},{"p":4,"s":2024,"d":120,"v":160},{"p":4,"s":2024,"d":125,"v":170},{"p":4,"s":2024,"d":130,"v":180},{"p":4,"s":2024,"d":135,"v":220},{"p":4,"s":2024,"d":140,"v":280},{"p":4,"s":2024,"d":144,"v":320},{"p":4,"s":2024,"d":148,"v":290},{"p":4,"s":2024,"d":152,"v":250},{"p":4,"s":2024,"d":156,"v":230},{"p":4,"s":2024,"d":160,"v":200},{"p":4,"s":2024,"d":165,"v":180},{"p":4,"s":2024,"d":170,"v":160},{"p":4,"s":2024,"d":175,"v":150},{"p":4,"s":2024,"d":180,"v":140},{"p":4,"s":2024,"d":185,"v":150},{"p":4,"s":2024,"d":190,"v":140},{"p":4,"s":2024,"d":195,"v":130},{"p":4,"s":2024,"d":200,"v":140},{"p":4,"s":2024,"d":205,"v":170},{"p":4,"s":2024,"d":210,"v":215},{"p":4,"s":2024,"d":215,"v":200},{"p":4,"s":2024,"d":220,"v":180},{"p":4,"s":2024,"d":225,"v":200},{"p":4,"s":2024,"d":230,"v":190},{"p":4,"s":2024,"d":235,"v":210},{"p":4,"s":2024,"d":240,"v":240},{"p":4,"s":2024,"d":245,"v":255},{"p":4,"s":2024,"d":250,"v":230},{"p":4,"s":2024,"d":255,"v":200},{"p":4,"s":2024,"d":260,"v":180},{"p":4,"s":2024,"d":265,"v":160},{"p":4,"s":2024,"d":270,"v":150},{"p":4,"s":2024,"d":275,"v":130},{"p":4,"s":2024,"d":280,"v":140},{"p":4,"s":2024,"d":285,"v":130},{"p":4,"s":2024,"d":290,"v":140},{"p":4,"s":2024,"d":295,"v":150},{"p":4,"s":2024,"d":300,"v":140},{"p":4,"s":2024,"d":305,"v":150},{"p":4,"s":2024,"d":310,"v":140},{"p":4,"s":2024,"d":315,"v":150},{"p":4,"s":2024,"d":320,"v":140},{"p":4,"s":2024,"d":325,"v":150},{"p":4,"s":2024,"d":330,"v":150},{"p":4,"s":2024,"d":335,"v":160},{"p":4,"s":2024,"d":340,"v":150},{"p":4,"s":2024,"d":345,"v":170},{"p":4,"s":2024,"d":350,"v":170},{"p":4,"s":2024,"d":355,"v":160},{"p":4,"s":2024,"d":360,"v":150},{"p":4,"s":2024,"d":364,"v":130},
{"p":4,"s":2025,"d":0,"v":150},{"p":4,"s":2025,"d":7,"v":150},{"p":4,"s":2025,"d":14,"v":160},{"p":4,"s":2025,"d":21,"v":170},{"p":4,"s":2025,"d":28,"v":190},{"p":4,"s":2025,"d":35,"v":180},{"p":4,"s":2025,"d":42,"v":170},{"p":4,"s":2025,"d":49,"v":180},{"p":4,"s":2025,"d":56,"v":190},{"p":4,"s":2025,"d":63,"v":170},{"p":4,"s":2025,"d":70,"v":160},{"p":4,"s":2025,"d":77,"v":150},{"p":4,"s":2025,"d":84,"v":140},{"p":4,"s":2025,"d":91,"v":130},{"p":4,"s":2025,"d":98,"v":120},{"p":4,"s":2025,"d":105,"v":100},{"p":4,"s":2025,"d":112,"v":70},{"p":4,"s":2025,"d":119,"v":60},{"p":4,"s":2025,"d":126,"v":60},{"p":4,"s":2025,"d":133,"v":90},{"p":4,"s":2025,"d":140,"v":100},{"p":4,"s":2025,"d":147,"v":80},{"p":4,"s":2025,"d":154,"v":60},{"p":4,"s":2025,"d":161,"v":50},{"p":4,"s":2025,"d":168,"v":80},{"p":4,"s":2025,"d":175,"v":120},{"p":4,"s":2025,"d":182,"v":110},{"p":4,"s":2025,"d":189,"v":90},{"p":4,"s":2025,"d":196,"v":80},{"p":4,"s":2025,"d":203,"v":70},{"p":4,"s":2025,"d":210,"v":60},{"p":4,"s":2025,"d":217,"v":50},{"p":4,"s":2025,"d":224,"v":40},{"p":4,"s":2025,"d":231,"v":50},{"p":4,"s":2025,"d":238,"v":40},{"p":4,"s":2025,"d":245,"v":30},{"p":4,"s":2025,"d":252,"v":40},{"p":4,"s":2025,"d":259,"v":30},{"p":4,"s":2025,"d":266,"v":30},{"p":4,"s":2025,"d":273,"v":20},{"p":4,"s":2025,"d":280,"v":10},{"p":4,"s":2025,"d":287,"v":-20},{"p":4,"s":2025,"d":294,"v":-40},{"p":4,"s":2025,"d":301,"v":-50},{"p":4,"s":2025,"d":308,"v":-60},{"p":4,"s":2025,"d":315,"v":-40},{"p":4,"s":2025,"d":322,"v":-50},{"p":4,"s":2025,"d":329,"v":-20},{"p":4,"s":2025,"d":336,"v":10},{"p":4,"s":2025,"d":343,"v":50},{"p":4,"s":2025,"d":350,"v":70},{"p":4,"s":2025,"d":357,"v":60},{"p":4,"s":2025,"d":364,"v":55},
{"p":4,"s":2026,"d":0,"v":80},{"p":4,"s":2026,"d":5,"v":90},{"p":4,"s":2026,"d":10,"v":110},{"p":4,"s":2026,"d":15,"v":140},{"p":4,"s":2026,"d":20,"v":150},{"p":4,"s":2026,"d":25,"v":170},{"p":4,"s":2026,"d":30,"v":160},{"p":4,"s":2026,"d":35,"v":140},{"p":4,"s":2026,"d":40,"v":150},{"p":4,"s":2026,"d":45,"v":130},{"p":4,"s":2026,"d":50,"v":130},{"p":4,"s":2026,"d":55,"v":100},{"p":4,"s":2026,"d":58,"v":60},{"p":4,"s":2026,"d":60,"v":-100},{"p":4,"s":2026,"d":62,"v":-170},{"p":4,"s":2026,"d":63,"v":-80},{"p":4,"s":2026,"d":65,"v":-160},{"p":4,"s":2026,"d":67,"v":-250},{"p":4,"s":2026,"d":69,"v":-260},{"p":4,"s":2026,"d":71,"v":-320},{"p":4,"s":2026,"d":73,"v":-400},{"p":4,"s":2026,"d":75,"v":-535},{"p":4,"s":2026,"d":77,"v":-470},{"p":4,"s":2026,"d":78,"v":-300},{"p":4,"s":2026,"d":79,"v":-200},{"p":4,"s":2026,"d":81,"v":-100}
]},
"vconcat":[
{"hconcat":[
{"width":220,"height":130,"data":{"name":"t"},"transform":[{"filter":"datum.p==1"}],
"title":{"text":["二甲苯（MX）调油价差（美元/","吨）"],"dx":8,"offset":-34.3,"lineHeight":23},
"mark":{"type":"line","strokeJoin":"round"},
"encoding":{
"x":{"field":"d","type":"quantitative","scale":{"domain":[0,365],"nice":false,"zero":false},"axis":{"values":[0,31,59,90,120,151,181,212,243,273,304,334],"labelExpr":"timeFormat(datetime(2022,0,1+datum.value),'%-m/%-d')","title":null,"labelPadding":8,"labelOverlap":false,"labelBound":false}},
"y":{"field":"v","type":"quantitative","scale":{"domain":[-400,600],"nice":false,"zero":false},"axis":{"values":[-400,-200,0,200,400,600],"title":null,"labelPadding":7,"labelOverlap":false,"labelBound":false}},
"color":{"field":"s","type":"nominal","scale":{"domain":[2022,2023,2024,2025,2026],"range":["#F79646","#3DBDF0","#9BBB59","#8064A2","#FF0000"]},"legend":{"title":null,"offset":-4.5}},
"strokeWidth":{"condition":{"test":"datum.s==2026","value":3},"value":1.6}}},
{"width":246,"height":130,"data":{"name":"t"},"transform":[{"filter":"datum.p==2"}],
"title":{"text":["二甲苯（MX）：化工-调油（美元/","吨）"],"dx":5,"offset":-29.6,"lineHeight":23},
"mark":{"type":"line","strokeJoin":"round"},
"encoding":{
"x":{"field":"d","type":"quantitative","scale":{"domain":[0,365],"nice":false,"zero":false},"axis":{"values":[0,31,59,90,120,151,181,212,243,273,304,334],"labelExpr":"timeFormat(datetime(2022,0,1+datum.value),'%-m/%-d')","title":null,"labelPadding":8,"labelOverlap":false,"labelBound":false}},
"y":{"field":"v","type":"quantitative","scale":{"domain":[-616.7,466.7],"nice":false,"zero":false},"axis":{"values":[-600,-400,-200,0,200,400],"title":null,"labelPadding":6,"labelOverlap":false,"labelBound":false}},
"color":{"field":"s","type":"nominal","scale":{"domain":[2022,2023,2024,2025,2026],"range":["#F79646","#3DBDF0","#9BBB59","#8064A2","#FF0000"]},"legend":{"title":null,"offset":-4.5}},
"strokeWidth":{"condition":{"test":"datum.s==2026","value":3},"value":1.6}}}
],"spacing":45.3,"bounds":"flush","resolve":{"scale":{"color":"independent"},"legend":{"color":"independent"}}},
{"hconcat":[
{"width":233,"height":134,"data":{"name":"t"},"transform":[{"filter":"datum.p==3"}],
"title":{"text":"甲苯调油价差（美元/吨）","dx":-16,"offset":-9.35},
"mark":{"type":"line","strokeJoin":"round"},
"encoding":{
"x":{"field":"d","type":"quantitative","scale":{"domain":[0,365],"nice":false,"zero":false},"axis":{"values":[0,31,59,90,120,151,181,212,243,273,304,334],"labelExpr":"timeFormat(datetime(2022,0,1+datum.value),'%-m/%-d')","title":null,"labelPadding":7.5,"labelOffset":1,"labelOverlap":false,"labelBound":false}},
"y":{"field":"v","type":"quantitative","scale":{"domain":[-200,600],"nice":false,"zero":false},"axis":{"values":[-200,-100,0,100,200,300,400,500,600],"title":null,"offset":4,"labelPadding":5,"labelOverlap":false,"labelBound":false}},
"color":{"field":"s","type":"nominal","scale":{"domain":[2022,2023,2024,2025,2026],"range":["#F79646","#3DBDF0","#9BBB59","#8064A2","#FF0000"]},"legend":{"title":null,"offset":-3}},
"strokeWidth":{"condition":{"test":"datum.s==2026","value":3},"value":1.6}}},
{"width":250,"height":134,"data":{"name":"t"},"transform":[{"filter":"datum.p==4"}],
"title":{"text":"甲苯：化工-调油（美元/吨）","dx":-16,"offset":-14.35},
"mark":{"type":"line","strokeJoin":"round"},
"encoding":{
"x":{"field":"d","type":"quantitative","scale":{"domain":[0,365],"nice":false,"zero":false},"axis":{"values":[0,31,59,90,120,151,181,212,243,273,304,334],"labelExpr":"timeFormat(datetime(2022,0,1+datum.value),'%-m/%-d')","title":null,"labelPadding":7.5,"labelOverlap":false,"labelBound":false}},
"y":{"field":"v","type":"quantitative","scale":{"domain":[-607.6,407.6],"nice":false,"zero":false},"axis":{"values":[-600,-400,-200,0,200,400],"title":null,"offset":3,"labelPadding":6,"labelOverlap":false,"labelBound":false}},
"color":{"field":"s","type":"nominal","scale":{"domain":[2022,2023,2024,2025,2026],"range":["#F79646","#3DBDF0","#9BBB59","#8064A2","#FF0000"]},"legend":{"title":null,"offset":-3}},
"strokeWidth":{"condition":{"test":"datum.s==2026","value":3},"value":1.6}}}
],"spacing":32.3,"bounds":"flush","resolve":{"scale":{"color":"independent"},"legend":{"color":"independent"}}}
],
"spacing":19.6,"bounds":"full",
"resolve":{"scale":{"color":"independent"},"legend":{"color":"independent"}}
}
